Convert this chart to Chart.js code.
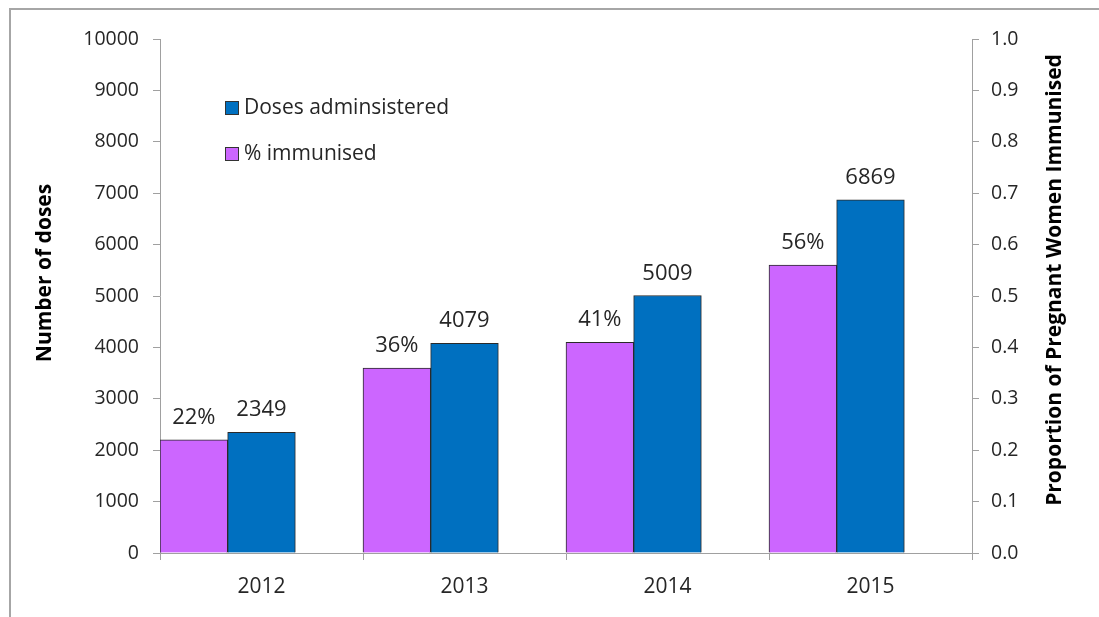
<!DOCTYPE html>
<html>
<head>
<meta charset="utf-8">
<script src="https://cdn.jsdelivr.net/npm/chart.js@4/dist/chart.umd.min.js"></script>
<style>
  html, body { margin: 0; padding: 0; background: #fff; }
  #wrap { position: relative; width: 1099px; height: 617px; }
  #frame { position: absolute; left: 9px; top: 8px; right: 0; bottom: 0;
           border-top: 2px solid #a6a6a6; border-left: 2px solid #a6a6a6; }
  canvas { position: absolute; left: 0; top: 0; }
</style>
</head>
<body>
<div id="wrap">
  <div id="frame"></div>
  <canvas id="chart" width="1099" height="617"></canvas>
</div>
<script>
// --- data ---
const years = ['2012', '2013', '2014', '2015'];
const immunised = [0.22, 0.36, 0.41, 0.56];
const doses = [2349, 4079, 5009, 6869];
const spacer = [null, null, null, null]; // empty third slot, as in the original layout
const legendLabels = ['Doses adminsistered', '% immunised'];
const leftTitle = 'Number of doses';
const rightTitle = 'Proportion of Pregnant Women Immunised';

const PURPLE = '#cc66ff';
const BLUE = '#0070c0';
const AXIS = '#a0a0a0';
const TEXT = '#262626';
const FONT = "'Open Sans', sans-serif";

// value labels above the bars
const barLabels = {
    id: 'barLabels',
    afterDatasetsDraw(chart) {
        const ctx = chart.ctx;
        ctx.save();
        ctx.font = `22px ${FONT}`;
        ctx.fillStyle = TEXT;
        ctx.textAlign = 'center';
        ctx.textBaseline = 'alphabetic';
        chart.data.datasets.forEach((ds, i) => {
            if (ds.data === spacer) return;
            chart.getDatasetMeta(i).data.forEach((bar, j) => {
                const v = ds.data[j];
                const txt = ds.yAxisID === 'y2' ? Math.round(v * 100) + '%' : String(v);
                ctx.fillText(txt, bar.x, bar.y - 16);
            });
        });
        ctx.restore();
    }
};

// legend inside the plot area + both axis titles reading bottom-to-top
const extras = {
    id: 'extras',
    afterDraw(chart) {
        const ctx = chart.ctx;
        const items = [[legendLabels[0], BLUE, 108], [legendLabels[1], PURPLE, 154]];
        ctx.save();
        ctx.font = `21px ${FONT}`;
        ctx.textBaseline = 'middle';
        items.forEach(([label, color, cy]) => {
            ctx.fillStyle = color;
            ctx.fillRect(225, cy - 7, 14, 14);
            ctx.strokeStyle = '#333';
            ctx.lineWidth = 1;
            ctx.strokeRect(225.5, cy - 6.5, 13, 13);
            ctx.fillStyle = TEXT;
            ctx.fillText(label, 244, cy);
        });

        ctx.font = `bold 21px ${FONT}`;
        ctx.fillStyle = '#000';
        ctx.textAlign = 'center';
        [[leftTitle, 45, 273], [rightTitle, 1055, 280]].forEach(([t, x, y]) => {
            ctx.save();
            ctx.translate(x, y);
            ctx.rotate(-Math.PI / 2);
            ctx.fillText(t, 0, 0);
            ctx.restore();
        });
        ctx.restore();
    }
};

const barStyle = {
    borderColor: '#2a2a2a',
    borderWidth: 1,
    categoryPercentage: 1.0,
    barPercentage: 1.0
};

new Chart(document.getElementById('chart'), {
    type: 'bar',
    data: {
        labels: years,
        datasets: [
            { label: legendLabels[1], data: immunised, yAxisID: 'y2', backgroundColor: PURPLE, ...barStyle },
            { label: legendLabels[0], data: doses, yAxisID: 'y', backgroundColor: BLUE, ...barStyle },
            { label: '', data: spacer, yAxisID: 'y', backgroundColor: 'rgba(0,0,0,0)', ...barStyle }
        ]
    },
    options: {
        responsive: false,
        animation: false,
        layout: { padding: { top: 39, left: 0, right: 0, bottom: 0 } },
        plugins: {
            legend: { display: false },
            tooltip: { enabled: false }
        },
        scales: {
            x: {
                grid: { display: true, drawOnChartArea: false, offset: true, color: AXIS, tickLength: 7 },
                border: { color: AXIS, width: 1 },
                ticks: { color: TEXT, font: { family: FONT, size: 21 }, padding: 14 },
                afterFit: s => { s.height = 64; }
            },
            y: {
                position: 'left',
                min: 0, max: 10000,
                ticks: {
                    stepSize: 1000, color: TEXT, padding: 14,
                    font: { family: FONT, size: 19.5 },
                    callback: v => String(v)
                },
                grid: { drawOnChartArea: false, color: AXIS, tickLength: 7 },
                border: { color: AXIS, width: 1 },
                afterFit: s => { s.width = 160; }
            },
            y2: {
                position: 'right',
                min: 0, max: 1,
                ticks: {
                    stepSize: 0.1, color: TEXT, padding: 12,
                    font: { family: FONT, size: 19.5 },
                    callback: v => Number(v).toFixed(1)
                },
                grid: { drawOnChartArea: false, color: AXIS, tickLength: 7 },
                border: { color: AXIS, width: 1 },
                afterFit: s => { s.width = 127; }
            }
        }
    },
    plugins: [barLabels, extras]
});
</script>
</body>
</html>
